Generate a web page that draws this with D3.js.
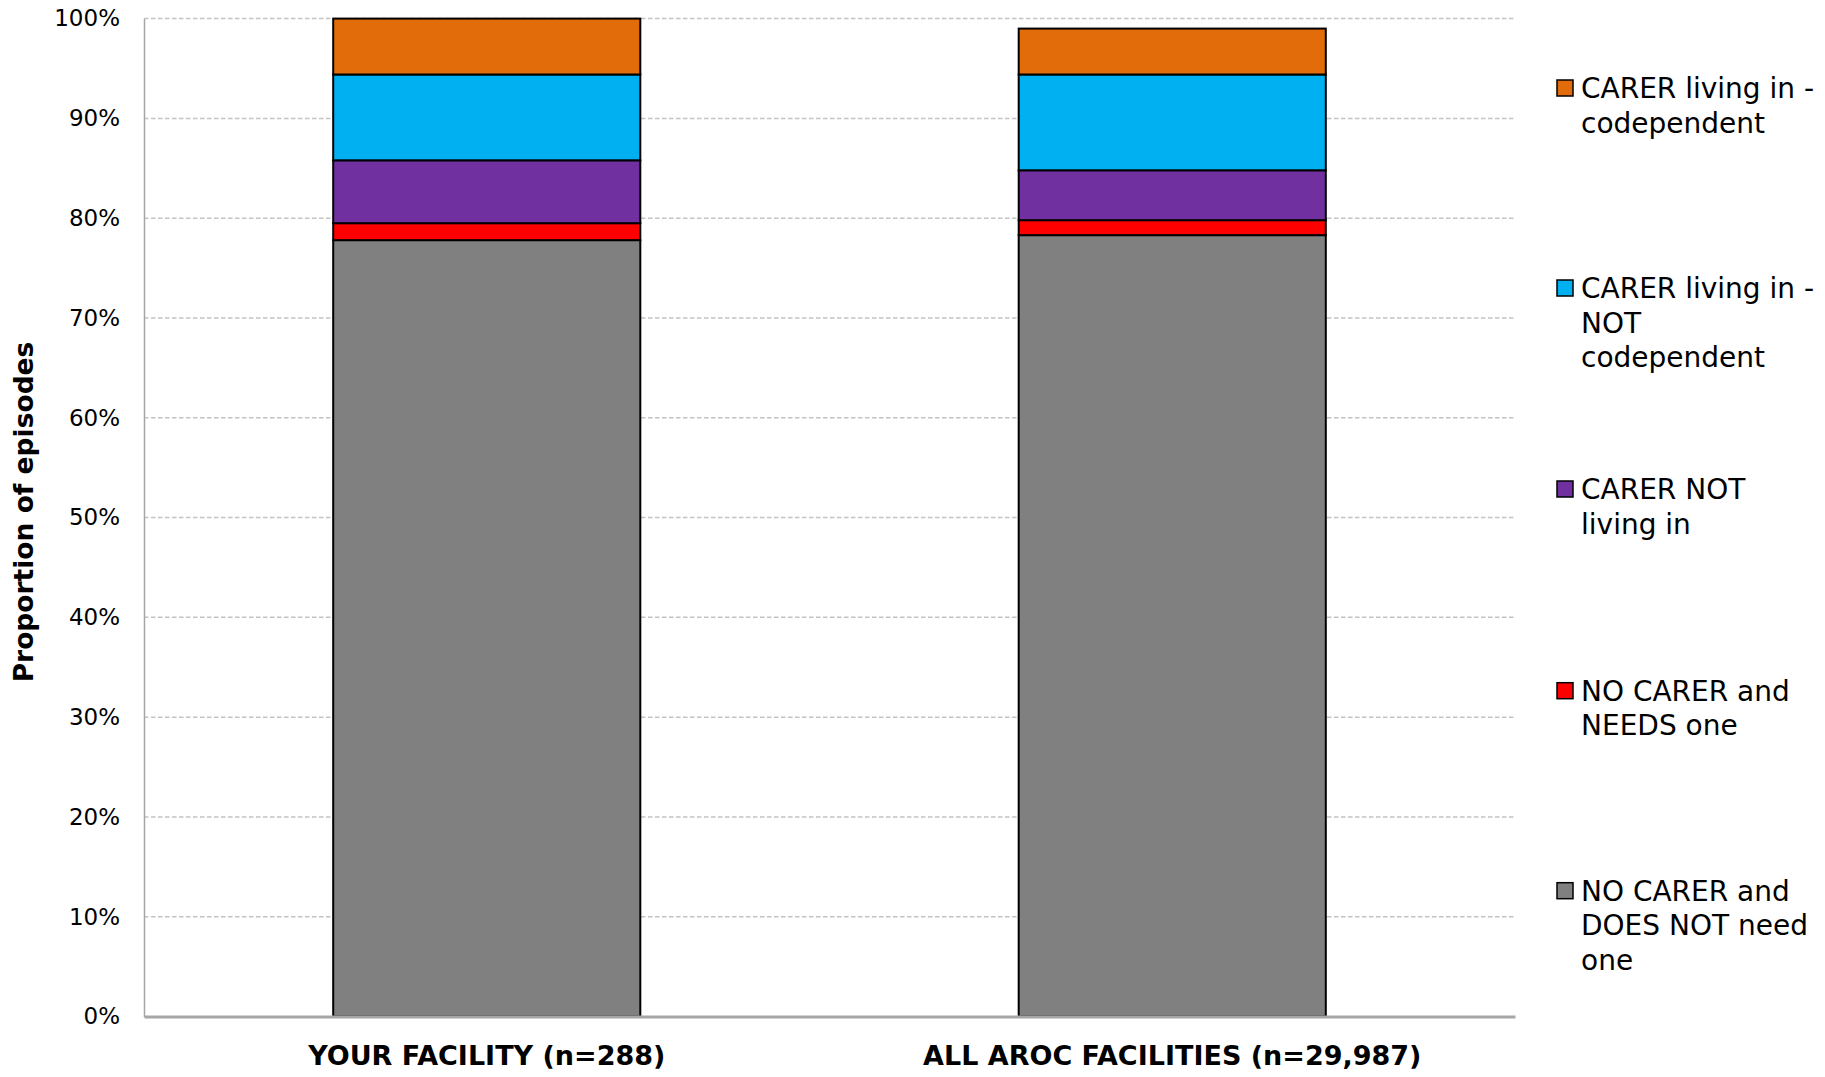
<!DOCTYPE html>
<html>
<head>
<meta charset="utf-8">
<script src="https://cdn.jsdelivr.net/npm/d3@7"></script>
<style>
  html, body { margin: 0; padding: 0; background: #fff; }
  svg { display: block; font-family: "DejaVu Sans", sans-serif; }
</style>
</head>
<body>
<svg id="chart" width="1825" height="1077"></svg>
<script>
// ---- Data ----
const categories = ["YOUR FACILITY (n=288)", "ALL AROC FACILITIES (n=29,987)"];
const seriesNames = [
  "NO CARER and DOES NOT need one",
  "NO CARER and NEEDS one",
  "CARER NOT living in",
  "CARER living in - NOT codependent",
  "CARER living in - codependent"
];
const noCarerNotNeeded = [77.8, 78.3];
const noCarerNeeds     = [1.7, 1.5];
const carerNotLivingIn = [6.3, 5.0];
const carerLivingInNotCodep = [8.6, 9.6];
const carerLivingInCodep    = [5.6, 4.6];
const seriesValues = [noCarerNotNeeded, noCarerNeeds, carerNotLivingIn, carerLivingInNotCodep, carerLivingInCodep];
const legendLines = [
  ["NO CARER and", "DOES NOT need", "one"],
  ["NO CARER and", "NEEDS one"],
  ["CARER NOT", "living in"],
  ["CARER living in -", "NOT", "codependent"],
  ["CARER living in -", "codependent"]
];
const colors = ["#808080", "#FF0000", "#7030A0", "#00B0F0", "#E36C0A"];
const yTicks = [0, 10, 20, 30, 40, 50, 60, 70, 80, 90, 100];

// ---- Layout ----
const svg = d3.select("#chart");
const plotLeft = 144, plotRight = 1515, plotTop = 18.6, plotBottom = 1016.5;

const table = categories.map((c, i) => {
  const row = { category: c };
  seriesNames.forEach((s, j) => row[s] = seriesValues[j][i]);
  return row;
});
const stacked = d3.stack().keys(seriesNames)(table);

const x = d3.scaleBand().domain(categories).range([plotLeft, plotRight]).paddingInner(0.552).paddingOuter(0.276);
const y = d3.scaleLinear().domain([0, 100]).range([plotBottom, plotTop]);

// gridlines
svg.append("g").selectAll("line").data(yTicks.filter(d => d > 0)).join("line")
  .attr("x1", plotLeft).attr("x2", plotRight)
  .attr("y1", d => y(d)).attr("y2", d => y(d))
  .attr("stroke", "#c4c4c4").attr("stroke-width", 1.5).attr("stroke-dasharray", "4.5,2.5");

// y axis
const yAxis = d3.axisLeft(y).tickValues(yTicks).tickFormat(d => d + "%").tickSize(0).tickPadding(24);
const gy = svg.append("g").attr("transform", `translate(${plotLeft},0)`).call(yAxis);
gy.select(".domain").attr("stroke", "#a6a6a6").attr("stroke-width", 1.5);
gy.selectAll("text").attr("font-size", 23).attr("fill", "#000").attr("font-family", "DejaVu Sans");

// bars
svg.append("g").selectAll("g").data(stacked).join("g")
  .attr("fill", (d, i) => colors[i])
  .selectAll("rect").data(d => d).join("rect")
  .attr("x", d => x(d.data.category))
  .attr("width", x.bandwidth())
  .attr("y", d => y(d[1]))
  .attr("height", d => y(d[0]) - y(d[1]))
  .attr("stroke", "#000").attr("stroke-width", 2);

// x axis
const xAxis = d3.axisBottom(x).tickSize(0).tickPadding(29);
const gx = svg.append("g").attr("transform", `translate(0,${plotBottom})`).call(xAxis);
gx.select(".domain").attr("stroke", "#a6a6a6").attr("stroke-width", 3);
gx.selectAll("text").attr("font-size", 27).attr("font-weight", "bold").attr("fill", "#000").attr("font-family", "DejaVu Sans");

// y title
svg.append("text")
  .attr("transform", `translate(33,512) rotate(-90)`)
  .attr("text-anchor", "middle")
  .attr("font-size", 26.5).attr("font-weight", "bold")
  .text("Proportion of episodes");

// legend (top to bottom: reversed series order)
const legendCenters = [890.7, 690.7, 489, 288, 88];
const lg = svg.append("g");
seriesNames.forEach((s, i) => {
  const g = lg.append("g").attr("transform", `translate(1557,${legendCenters[i]})`);
  g.append("rect").attr("x", 0).attr("y", -8).attr("width", 16).attr("height", 16)
    .attr("fill", colors[i]).attr("stroke", "#000").attr("stroke-width", 1.5);
  const t = g.append("text").attr("x", 24).attr("y", 0).attr("font-size", 28).attr("fill", "#000");
  legendLines[i].forEach((line, k) => {
    t.append("tspan").attr("x", 24).attr("y", k * 34.5).attr("dy", "0.36em").text(line);
  });
});
</script>
</body>
</html>
